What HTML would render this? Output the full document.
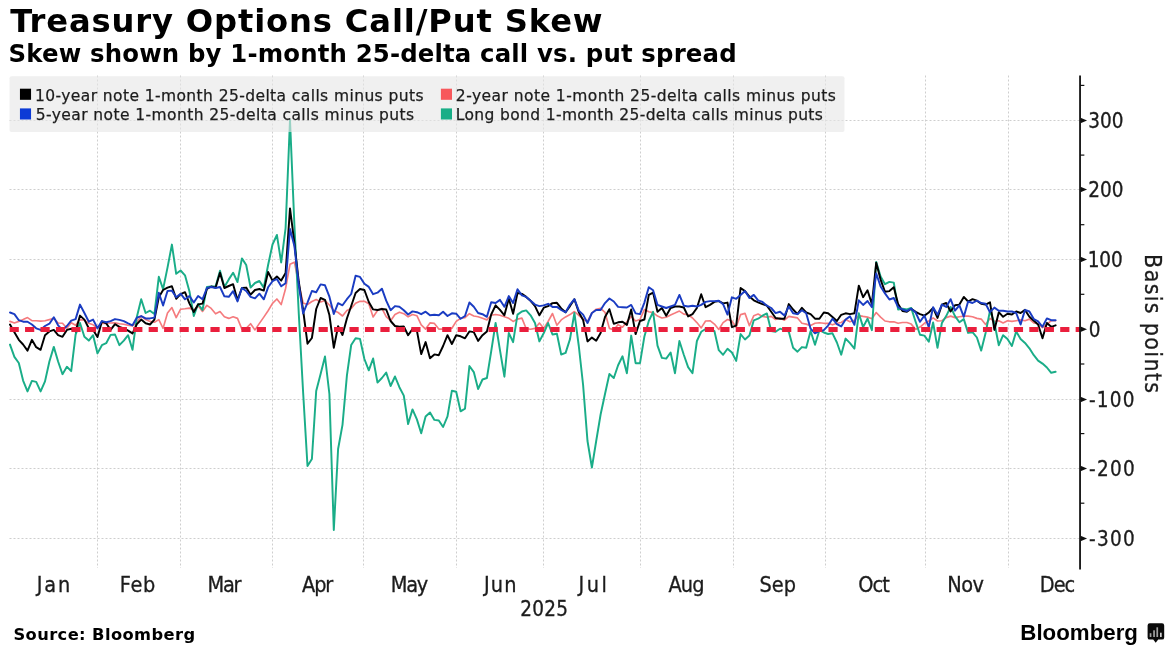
<!DOCTYPE html>
<html lang="en"><head><meta charset="utf-8"><title>Treasury Options Call/Put Skew</title>
<style>html,body{margin:0;padding:0;background:#fff}svg{display:block}</style></head>
<body>
<svg width="1173" height="654" viewBox="0 0 1173 654">
<rect width="1173" height="654" fill="#fff"/>
<g stroke="#cecece" stroke-width="1" stroke-dasharray="2 2" fill="none"><line x1="9.5" x2="1080.05" y1="120.5" y2="120.5"/><line x1="9.5" x2="1080.05" y1="189.5" y2="189.5"/><line x1="9.5" x2="1080.05" y1="259.5" y2="259.5"/><line x1="9.5" x2="1080.05" y1="399.5" y2="399.5"/><line x1="9.5" x2="1080.05" y1="468.5" y2="468.5"/><line x1="9.5" x2="1080.05" y1="538.5" y2="538.5"/><line x1="97.5" x2="97.5" y1="75.5" y2="568"/><line x1="180.5" x2="180.5" y1="75.5" y2="568"/><line x1="272.5" x2="272.5" y1="75.5" y2="568"/><line x1="363.5" x2="363.5" y1="75.5" y2="568"/><line x1="456.5" x2="456.5" y1="75.5" y2="568"/><line x1="543.5" x2="543.5" y1="75.5" y2="568"/><line x1="640.5" x2="640.5" y1="75.5" y2="568"/><line x1="733.5" x2="733.5" y1="75.5" y2="568"/><line x1="825.5" x2="825.5" y1="75.5" y2="568"/><line x1="925.5" x2="925.5" y1="75.5" y2="568"/><line x1="1008.5" x2="1008.5" y1="75.5" y2="568"/></g>
<polyline points="10.0,321.4 14.4,323.0 18.8,321.4 23.1,319.6 27.5,317.6 31.9,320.7 36.2,320.7 40.6,321.1 45.0,320.7 49.4,319.6 53.8,318.4 58.1,323.0 62.5,323.3 66.9,328.3 71.2,322.7 75.6,325.3 80.0,319.6 84.4,320.2 88.8,323.3 93.1,324.8 97.5,328.3 101.9,323.3 106.2,323.3 110.6,323.0 115.0,322.7 119.4,323.7 123.8,324.2 128.1,325.3 132.5,326.0 136.9,322.2 141.2,316.1 145.6,319.6 150.0,321.4 154.4,322.2 158.8,319.6 163.1,328.3 167.5,313.0 171.9,307.6 176.2,317.6 180.6,309.2 185.0,308.8 189.4,308.1 193.8,310.4 198.1,305.8 202.5,311.5 206.9,305.3 211.2,308.4 215.6,313.8 220.0,311.5 224.4,316.8 228.8,318.4 233.1,316.8 237.5,318.4 241.9,329.1 246.2,328.3 250.6,323.7 255.0,329.9 259.4,323.4 263.8,317.1 268.1,310.7 272.5,303.4 276.9,299.0 281.2,304.6 285.6,288.5 290.0,264.3 294.4,262.2 298.8,284.0 303.1,303.0 307.5,304.5 311.9,301.5 316.2,299.5 320.6,302.0 325.0,300.5 329.4,305.0 333.8,310.5 338.1,312.5 342.5,316.0 346.9,310.5 351.2,308.4 355.6,303.3 360.0,301.3 364.4,301.3 368.8,303.8 373.1,317.0 377.5,310.5 381.9,308.4 386.2,316.6 390.6,320.7 395.0,314.5 399.4,312.2 403.8,313.7 408.1,316.8 412.5,314.5 416.9,315.7 421.2,324.9 425.6,329.1 430.0,322.9 434.4,323.4 438.8,329.1 443.1,329.1 447.5,329.8 451.9,328.3 456.2,321.4 460.6,318.3 465.0,317.6 469.4,313.7 473.8,316.0 478.1,316.8 482.5,318.3 486.9,319.9 491.2,315.3 495.6,314.5 500.0,315.3 504.4,316.8 508.8,318.3 513.1,321.4 517.5,319.1 521.9,318.1 526.2,328.8 530.6,329.2 535.0,328.4 539.4,323.0 543.8,328.4 548.1,321.5 552.5,313.5 556.9,325.3 561.2,319.9 565.6,316.9 570.0,314.6 574.4,311.5 578.8,315.3 583.1,319.2 587.5,321.5 591.9,313.0 596.2,309.2 600.6,308.4 605.0,312.3 609.4,328.4 613.8,329.9 618.1,324.6 622.5,327.2 626.9,321.8 631.2,316.4 635.6,321.0 640.0,319.5 644.4,309.5 648.8,311.8 653.1,312.6 657.5,316.1 661.9,318.0 666.2,317.2 670.6,314.9 675.0,313.1 679.4,311.1 683.8,314.1 688.1,314.6 692.5,318.0 696.9,322.6 701.2,327.9 705.6,321.0 710.0,320.7 714.4,324.1 718.8,329.5 723.1,322.6 727.5,319.5 731.9,321.0 736.2,327.2 740.6,314.6 745.0,313.4 749.4,325.6 753.8,315.7 758.1,314.1 762.5,316.4 766.9,317.2 771.2,316.4 775.6,319.5 780.0,318.0 784.4,320.2 788.8,316.4 793.1,317.1 797.5,317.9 801.9,323.3 806.2,324.1 810.6,325.6 815.0,323.3 819.4,322.8 823.8,323.3 828.1,323.3 832.5,324.8 836.9,323.3 841.2,322.5 845.6,319.5 850.0,321.8 854.4,320.2 858.8,315.6 863.1,316.4 867.5,317.1 871.9,318.7 876.2,312.5 880.6,317.1 885.0,321.0 889.4,321.8 893.8,321.8 898.1,323.3 902.5,322.5 906.9,322.5 911.2,324.1 915.6,329.4 920.0,327.1 924.4,323.3 928.8,321.0 933.1,317.9 937.5,321.0 941.9,320.7 946.2,317.6 950.6,316.1 955.0,317.6 959.4,316.8 963.8,316.1 968.1,316.1 972.5,316.8 976.9,318.4 981.2,319.1 985.6,324.5 990.0,318.4 994.4,321.4 998.8,320.7 1003.1,323.0 1007.5,320.7 1011.9,321.4 1016.2,320.7 1020.6,319.9 1025.0,320.7 1029.4,319.1 1033.8,323.0 1038.1,323.7 1042.5,327.6 1046.9,324.5 1051.2,320.7 1055.6,320.7" fill="none" stroke="#f57b7e" stroke-width="1.65" stroke-linejoin="round" stroke-linecap="round"/>
<polyline points="10.0,344.6 14.4,356.9 18.8,363.0 23.1,380.6 27.5,391.4 31.9,380.9 36.2,381.9 40.6,391.4 45.0,381.4 49.4,361.5 53.8,346.9 58.1,361.5 62.5,374.2 66.9,366.8 71.2,371.1 75.6,334.6 80.0,323.0 84.4,336.8 88.8,340.6 93.1,335.2 97.5,353.4 101.9,345.2 106.2,343.2 110.6,334.9 115.0,334.5 119.4,345.2 123.8,340.6 128.1,335.2 132.5,349.8 136.9,316.8 141.2,299.2 145.6,313.0 150.0,310.7 154.4,314.1 158.8,276.8 163.1,289.1 167.5,267.6 171.9,244.6 176.2,273.8 180.6,270.5 185.0,275.3 189.4,291.2 193.8,316.0 198.1,304.0 202.5,310.0 206.9,287.0 211.2,286.5 215.6,286.5 220.0,270.7 224.4,287.0 228.8,279.4 233.1,272.7 237.5,282.0 241.9,258.4 246.2,265.0 250.6,287.6 255.0,283.0 259.4,281.0 263.8,287.6 268.1,265.0 272.5,244.5 276.9,235.0 281.2,262.5 285.6,228.0 290.0,120.0 294.4,225.0 298.8,314.0 303.1,392.0 307.5,466.0 311.9,459.0 316.2,391.0 320.6,374.0 325.0,356.5 329.4,394.0 333.8,530.0 338.1,449.0 342.5,424.8 346.9,375.7 351.2,345.0 355.6,338.3 360.0,338.9 364.4,359.0 368.8,370.3 373.1,358.5 377.5,382.6 381.9,378.0 386.2,372.6 390.6,386.0 395.0,376.5 399.4,387.2 403.8,395.6 408.1,424.0 412.5,409.4 416.9,419.4 421.2,433.2 425.6,416.4 430.0,412.5 434.4,419.9 438.8,420.5 443.1,427.0 447.5,416.4 451.9,390.7 456.2,391.8 460.6,411.3 465.0,408.7 469.4,366.0 473.8,372.1 478.1,389.0 482.5,379.5 486.9,378.0 491.2,351.4 495.6,323.0 500.0,350.3 504.4,376.7 508.8,333.0 513.1,342.2 517.5,314.6 521.9,311.5 526.2,310.4 530.6,315.3 535.0,323.0 539.4,341.4 543.8,333.0 548.1,323.0 552.5,334.5 556.9,333.8 561.2,354.5 565.6,352.9 570.0,339.1 574.4,313.0 578.8,346.0 583.1,385.0 587.5,441.0 591.9,467.5 596.2,441.0 600.6,414.5 605.0,394.0 609.4,374.0 613.8,378.0 618.1,365.2 622.5,356.3 626.9,373.2 631.2,335.6 635.6,363.2 640.0,363.2 644.4,336.4 648.8,321.0 653.1,311.8 657.5,345.6 661.9,357.9 666.2,358.6 670.6,352.5 675.0,373.2 679.4,341.0 683.8,354.8 688.1,367.1 692.5,373.2 696.9,341.0 701.2,331.8 705.6,329.0 710.0,328.7 714.4,331.0 718.8,350.2 723.1,354.8 727.5,348.7 731.9,352.5 736.2,360.9 740.6,334.1 745.0,339.5 749.4,335.6 753.8,320.3 758.1,318.7 762.5,315.7 766.9,313.4 771.2,331.0 775.6,331.8 780.0,328.7 784.4,330.2 788.8,331.7 793.1,347.8 797.5,351.7 801.9,347.1 806.2,347.8 810.6,331.0 815.0,344.8 819.4,330.2 823.8,332.5 828.1,334.0 832.5,333.3 836.9,342.5 841.2,354.7 845.6,338.6 850.0,343.2 854.4,348.6 858.8,313.3 863.1,327.1 867.5,318.7 871.9,330.2 876.2,261.9 880.6,276.5 885.0,284.2 889.4,281.9 893.8,282.6 898.1,309.5 902.5,308.7 906.9,309.5 911.2,307.9 915.6,321.8 920.0,334.8 924.4,335.6 928.8,341.7 933.1,322.5 937.5,347.8 941.9,323.0 946.2,316.1 950.6,306.9 955.0,316.1 959.4,322.2 963.8,319.1 968.1,332.9 972.5,332.2 976.9,337.5 981.2,350.6 985.6,332.9 990.0,310.7 994.4,323.0 998.8,345.2 1003.1,335.2 1007.5,339.1 1011.9,346.0 1016.2,331.4 1020.6,339.1 1025.0,342.9 1029.4,348.3 1033.8,355.2 1038.1,360.6 1042.5,363.6 1046.9,367.5 1051.2,372.8 1055.6,371.8" fill="none" stroke="#1aad88" stroke-width="1.95" stroke-linejoin="round" stroke-linecap="round"/>
<polyline points="10.0,324.5 14.4,332.2 18.8,339.8 23.1,344.5 27.5,350.6 31.9,339.8 36.2,347.2 40.6,349.8 45.0,335.2 49.4,331.4 53.8,329.9 58.1,335.2 62.5,336.8 66.9,329.9 71.2,328.8 75.6,331.4 80.0,315.6 84.4,319.6 88.8,328.3 93.1,329.9 97.5,337.1 101.9,321.4 106.2,323.3 110.6,329.9 115.0,324.2 119.4,326.8 123.8,328.3 128.1,330.6 132.5,333.4 136.9,324.2 141.2,319.6 145.6,323.3 150.0,324.5 154.4,319.6 158.8,297.2 163.1,290.0 167.5,287.6 171.9,286.2 176.2,298.8 180.6,294.2 185.0,292.2 189.4,303.4 193.8,312.0 198.1,304.4 202.5,303.6 206.9,289.0 211.2,286.5 215.6,287.6 220.0,272.7 224.4,288.0 228.8,286.0 233.1,284.2 237.5,300.0 241.9,288.0 246.2,287.6 250.6,294.7 255.0,290.0 259.4,289.0 263.8,290.6 268.1,272.0 272.5,280.6 276.9,276.5 281.2,280.6 285.6,273.0 290.0,208.4 294.4,243.0 298.8,282.0 303.1,310.0 307.5,343.7 311.9,338.0 316.2,309.0 320.6,298.0 325.0,299.8 329.4,315.0 333.8,347.7 338.1,326.2 342.5,335.0 346.9,318.5 351.2,306.0 355.6,293.0 360.0,289.0 364.4,290.0 368.8,302.0 373.1,309.4 377.5,310.0 381.9,309.0 386.2,309.5 390.6,321.0 395.0,326.0 399.4,326.8 403.8,326.5 408.1,335.2 412.5,329.1 416.9,330.6 421.2,354.1 425.6,342.1 430.0,358.2 434.4,354.4 438.8,355.2 443.1,346.0 447.5,335.2 451.9,344.0 456.2,335.2 460.6,336.3 465.0,338.3 469.4,331.4 473.8,332.1 478.1,340.9 482.5,335.2 486.9,331.4 491.2,314.5 495.6,305.3 500.0,309.9 504.4,315.3 508.8,298.4 513.1,313.7 517.5,293.0 521.9,293.9 526.2,296.9 530.6,300.8 535.0,306.1 539.4,315.3 543.8,307.7 548.1,306.1 552.5,303.1 556.9,302.8 561.2,308.4 565.6,312.3 570.0,306.1 574.4,299.2 578.8,312.3 583.1,319.9 587.5,341.4 591.9,337.6 596.2,340.7 600.6,333.0 605.0,316.9 609.4,309.2 613.8,323.8 618.1,322.3 622.5,321.8 626.9,324.9 631.2,309.5 635.6,334.1 640.0,321.0 644.4,319.5 648.8,294.9 653.1,292.6 657.5,311.8 661.9,308.0 666.2,315.7 670.6,308.0 675.0,306.5 679.4,306.5 683.8,307.5 688.1,316.4 692.5,314.1 696.9,308.0 701.2,294.2 705.6,307.2 710.0,304.9 714.4,301.9 718.8,301.1 723.1,303.4 727.5,302.6 731.9,327.2 736.2,325.6 740.6,288.0 745.0,291.1 749.4,296.5 753.8,300.3 758.1,302.3 762.5,304.2 766.9,305.7 771.2,311.8 775.6,318.0 780.0,318.7 784.4,318.7 788.8,304.1 793.1,309.5 797.5,314.1 801.9,307.9 806.2,312.5 810.6,314.1 815.0,318.7 819.4,318.7 823.8,312.5 828.1,313.3 832.5,317.1 836.9,321.0 841.2,314.8 845.6,313.3 850.0,314.1 854.4,313.3 858.8,285.7 863.1,297.2 867.5,290.3 871.9,304.1 876.2,262.8 880.6,279.6 885.0,291.8 889.4,291.1 893.8,287.2 898.1,304.1 902.5,311.0 906.9,311.8 911.2,308.7 915.6,311.8 920.0,314.1 924.4,315.6 928.8,312.5 933.1,307.9 937.5,317.9 941.9,304.6 946.2,303.0 950.6,311.5 955.0,305.3 959.4,304.6 963.8,296.9 968.1,301.5 972.5,299.2 976.9,300.7 981.2,303.8 985.6,304.6 990.0,302.3 994.4,329.9 998.8,312.2 1003.1,316.8 1007.5,313.8 1011.9,314.5 1016.2,311.5 1020.6,313.0 1025.0,309.9 1029.4,316.8 1033.8,320.7 1038.1,324.5 1042.5,338.3 1046.9,323.0 1051.2,326.8 1055.6,325.3" fill="none" stroke="#000000" stroke-width="1.95" stroke-linejoin="round" stroke-linecap="round"/>
<polyline points="10.0,312.5 14.4,314.1 18.8,320.2 23.1,321.7 27.5,321.7 31.9,324.5 36.2,328.3 40.6,329.9 45.0,326.0 49.4,323.7 53.8,317.3 58.1,325.3 62.5,329.9 66.9,326.0 71.2,320.7 75.6,319.1 80.0,304.6 84.4,313.0 88.8,321.7 93.1,319.6 97.5,328.3 101.9,321.1 106.2,322.2 110.6,321.1 115.0,319.1 119.4,319.9 123.8,321.1 128.1,323.3 132.5,325.3 136.9,317.6 141.2,316.1 145.6,318.4 150.0,318.4 154.4,317.6 158.8,292.7 163.1,305.5 167.5,291.0 171.9,290.6 176.2,297.3 180.6,293.7 185.0,299.3 189.4,296.0 193.8,302.5 198.1,296.0 202.5,299.3 206.9,288.0 211.2,287.0 215.6,288.0 220.0,287.0 224.4,296.3 228.8,296.8 233.1,291.2 237.5,301.4 241.9,288.0 246.2,291.0 250.6,296.8 255.0,298.3 259.4,293.7 263.8,299.3 268.1,287.3 272.5,281.2 276.9,279.0 281.2,286.3 285.6,283.2 290.0,229.0 294.4,246.0 298.8,285.0 303.1,313.4 307.5,302.6 311.9,291.0 316.2,292.3 320.6,284.4 325.0,285.3 329.4,296.7 333.8,314.0 338.1,303.2 342.5,305.3 346.9,299.2 351.2,294.0 355.6,275.8 360.0,276.9 364.4,283.8 368.8,286.9 373.1,294.2 377.5,292.7 381.9,288.7 386.2,300.7 390.6,310.2 395.0,306.1 399.4,306.8 403.8,310.2 408.1,314.5 412.5,311.4 416.9,312.2 421.2,314.2 425.6,311.7 430.0,315.3 434.4,314.8 438.8,315.3 443.1,311.7 447.5,316.0 451.9,313.3 456.2,313.7 460.6,318.8 465.0,316.0 469.4,302.5 473.8,306.8 478.1,313.0 482.5,314.2 486.9,316.8 491.2,302.2 495.6,303.0 500.0,299.9 504.4,306.8 508.8,296.1 513.1,303.0 517.5,289.2 521.9,295.4 526.2,296.9 530.6,300.8 535.0,304.6 539.4,306.1 543.8,305.4 548.1,303.8 552.5,306.9 556.9,306.9 561.2,310.0 565.6,312.3 570.0,304.6 574.4,299.2 578.8,310.7 583.1,314.6 587.5,323.0 591.9,313.0 596.2,310.0 600.6,310.0 605.0,303.1 609.4,298.5 613.8,301.5 618.1,306.9 622.5,307.2 626.9,307.5 631.2,304.9 635.6,313.4 640.0,314.1 644.4,302.6 648.8,287.3 653.1,290.3 657.5,304.9 661.9,306.5 666.2,308.0 670.6,306.5 675.0,304.9 679.4,294.9 683.8,305.7 688.1,306.5 692.5,305.7 696.9,306.5 701.2,304.9 705.6,301.9 710.0,301.1 714.4,301.1 718.8,300.8 723.1,304.2 727.5,314.6 731.9,297.3 736.2,298.8 740.6,294.9 745.0,291.1 749.4,298.0 753.8,294.9 758.1,300.3 762.5,301.9 766.9,305.7 771.2,308.0 775.6,313.1 780.0,311.8 784.4,315.6 788.8,306.4 793.1,313.3 797.5,314.1 801.9,310.2 806.2,313.3 810.6,328.7 815.0,333.3 819.4,331.0 823.8,330.2 828.1,325.6 832.5,318.7 836.9,324.1 841.2,326.4 845.6,319.5 850.0,316.4 854.4,324.8 858.8,300.3 863.1,304.9 867.5,301.0 871.9,307.2 876.2,273.4 880.6,286.5 885.0,293.4 889.4,299.5 893.8,298.0 898.1,307.2 902.5,309.5 906.9,311.0 911.2,308.7 915.6,312.5 920.0,321.8 924.4,315.6 928.8,327.1 933.1,307.2 937.5,314.8 941.9,304.6 946.2,306.9 950.6,299.2 955.0,310.7 959.4,305.3 963.8,316.8 968.1,301.5 972.5,303.0 976.9,300.7 981.2,303.0 985.6,303.8 990.0,312.2 994.4,307.6 998.8,310.7 1003.1,310.7 1007.5,311.5 1011.9,311.5 1016.2,313.0 1020.6,324.5 1025.0,309.9 1029.4,311.5 1033.8,319.1 1038.1,321.4 1042.5,326.8 1046.9,318.4 1051.2,320.2 1055.6,320.2" fill="none" stroke="#1a3cc2" stroke-width="1.95" stroke-linejoin="round" stroke-linecap="round"/>
<line x1="9.6" x2="1080.05" y1="329.45" y2="329.45" stroke="#ea1f3d" stroke-width="5" stroke-dasharray="9.2 6.25"/>
<rect x="9.5" y="76.3" width="835" height="55.8" rx="2" fill="#e6e6e6" fill-opacity="0.62"/>
<line x1="1080.05" x2="1080.05" y1="75.5" y2="569.5" stroke="#111" stroke-width="1.8"/>
<line x1="1080.05" x2="1084.35" y1="85.4" y2="85.4" stroke="#111" stroke-width="1.2"/><line x1="1080.05" x2="1084.35" y1="155.1" y2="155.1" stroke="#111" stroke-width="1.2"/><line x1="1080.05" x2="1084.35" y1="224.7" y2="224.7" stroke="#111" stroke-width="1.2"/><line x1="1080.05" x2="1084.35" y1="294.3" y2="294.3" stroke="#111" stroke-width="1.2"/><line x1="1080.05" x2="1084.35" y1="364.0" y2="364.0" stroke="#111" stroke-width="1.2"/><line x1="1080.05" x2="1084.35" y1="433.6" y2="433.6" stroke="#111" stroke-width="1.2"/><line x1="1080.05" x2="1084.35" y1="503.2" y2="503.2" stroke="#111" stroke-width="1.2"/><path d="M1080.55 117.7L1087.05 120.5L1080.55 123.3Z" fill="#111"/><path d="M1080.55 186.7L1087.05 189.5L1080.55 192.3Z" fill="#111"/><path d="M1080.55 256.7L1087.05 259.5L1080.55 262.3Z" fill="#111"/><path d="M1080.55 326.5L1087.05 329.3L1080.55 332.1Z" fill="#111"/><path d="M1080.55 396.7L1087.05 399.5L1080.55 402.3Z" fill="#111"/><path d="M1080.55 465.7L1087.05 468.5L1080.55 471.3Z" fill="#111"/><path d="M1080.55 535.7L1087.05 538.5L1080.55 541.3Z" fill="#111"/>
<text x="1088.22" y="127.95" font-family='"DejaVu Sans Condensed","DejaVu Sans","Liberation Sans",sans-serif' font-size="20.5" textLength="35.21" lengthAdjust="spacing" fill="#1c1c1c" stroke="#1c1c1c" stroke-width="0.3">300</text>
<text x="1088.34" y="196.95" font-family='"DejaVu Sans Condensed","DejaVu Sans","Liberation Sans",sans-serif' font-size="20.5" textLength="35.08" lengthAdjust="spacing" fill="#1c1c1c" stroke="#1c1c1c" stroke-width="0.3">200</text>
<text x="1087.76" y="266.95" font-family='"DejaVu Sans Condensed","DejaVu Sans","Liberation Sans",sans-serif' font-size="20.5" textLength="34.94" lengthAdjust="spacing" fill="#1c1c1c" stroke="#1c1c1c" stroke-width="0.3">100</text>
<text x="1088.67" y="336.75" font-family='"DejaVu Sans Condensed","DejaVu Sans","Liberation Sans",sans-serif' font-size="20.5" textLength="12.97" lengthAdjust="spacing" fill="#1c1c1c" stroke="#1c1c1c" stroke-width="0.3">0</text>
<text x="1089.00" y="406.95" font-family='"DejaVu Sans Condensed","DejaVu Sans","Liberation Sans",sans-serif' font-size="20.5" textLength="45.36" lengthAdjust="spacing" fill="#1c1c1c" stroke="#1c1c1c" stroke-width="0.3">-100</text>
<text x="1089.00" y="475.95" font-family='"DejaVu Sans Condensed","DejaVu Sans","Liberation Sans",sans-serif' font-size="20.5" textLength="45.83" lengthAdjust="spacing" fill="#1c1c1c" stroke="#1c1c1c" stroke-width="0.3">-200</text>
<text x="1089.00" y="545.95" font-family='"DejaVu Sans Condensed","DejaVu Sans","Liberation Sans",sans-serif' font-size="20.5" textLength="45.83" lengthAdjust="spacing" fill="#1c1c1c" stroke="#1c1c1c" stroke-width="0.3">-300</text>
<text x="36.82" y="591.90" font-family='"DejaVu Sans Condensed","DejaVu Sans","Liberation Sans",sans-serif' font-size="21.5" textLength="33.53" lengthAdjust="spacing" fill="#1c1c1c" stroke="#1c1c1c" stroke-width="0.3">Jan</text>
<text x="119.85" y="591.90" font-family='"DejaVu Sans Condensed","DejaVu Sans","Liberation Sans",sans-serif' font-size="21.5" textLength="35.44" lengthAdjust="spacing" fill="#1c1c1c" stroke="#1c1c1c" stroke-width="0.3">Feb</text>
<text x="207.39" y="591.90" font-family='"DejaVu Sans Condensed","DejaVu Sans","Liberation Sans",sans-serif' font-size="21.5" textLength="34.09" lengthAdjust="spacing" fill="#1c1c1c" stroke="#1c1c1c" stroke-width="0.3">Mar</text>
<text x="302.02" y="591.90" font-family='"DejaVu Sans Condensed","DejaVu Sans","Liberation Sans",sans-serif' font-size="21.5" textLength="31.23" lengthAdjust="spacing" fill="#1c1c1c" stroke="#1c1c1c" stroke-width="0.3">Apr</text>
<text x="390.85" y="591.90" font-family='"DejaVu Sans Condensed","DejaVu Sans","Liberation Sans",sans-serif' font-size="21.5" textLength="37.32" lengthAdjust="spacing" fill="#1c1c1c" stroke="#1c1c1c" stroke-width="0.3">May</text>
<text x="483.94" y="591.90" font-family='"DejaVu Sans Condensed","DejaVu Sans","Liberation Sans",sans-serif' font-size="21.5" textLength="32.66" lengthAdjust="spacing" fill="#1c1c1c" stroke="#1c1c1c" stroke-width="0.3">Jun</text>
<text x="578.51" y="591.90" font-family='"DejaVu Sans Condensed","DejaVu Sans","Liberation Sans",sans-serif' font-size="21.5" textLength="28.30" lengthAdjust="spacing" fill="#1c1c1c" stroke="#1c1c1c" stroke-width="0.3">Jul</text>
<text x="668.42" y="591.90" font-family='"DejaVu Sans Condensed","DejaVu Sans","Liberation Sans",sans-serif' font-size="21.5" textLength="36.22" lengthAdjust="spacing" fill="#1c1c1c" stroke="#1c1c1c" stroke-width="0.3">Aug</text>
<text x="759.44" y="591.90" font-family='"DejaVu Sans Condensed","DejaVu Sans","Liberation Sans",sans-serif' font-size="21.5" textLength="36.63" lengthAdjust="spacing" fill="#1c1c1c" stroke="#1c1c1c" stroke-width="0.3">Sep</text>
<text x="858.17" y="591.90" font-family='"DejaVu Sans Condensed","DejaVu Sans","Liberation Sans",sans-serif' font-size="21.5" textLength="31.56" lengthAdjust="spacing" fill="#1c1c1c" stroke="#1c1c1c" stroke-width="0.3">Oct</text>
<text x="947.14" y="591.90" font-family='"DejaVu Sans Condensed","DejaVu Sans","Liberation Sans",sans-serif' font-size="21.5" textLength="36.86" lengthAdjust="spacing" fill="#1c1c1c" stroke="#1c1c1c" stroke-width="0.3">Nov</text>
<text x="1039.82" y="591.90" font-family='"DejaVu Sans Condensed","DejaVu Sans","Liberation Sans",sans-serif' font-size="21.5" textLength="35.43" lengthAdjust="spacing" fill="#1c1c1c" stroke="#1c1c1c" stroke-width="0.3">Dec</text>
<text x="520.31" y="615.60" font-family='"DejaVu Sans Condensed","DejaVu Sans","Liberation Sans",sans-serif' font-size="20.5" textLength="47.60" lengthAdjust="spacing" fill="#1c1c1c" stroke="#1c1c1c" stroke-width="0.3">2025</text>
<text transform="translate(1144.5,254.11) rotate(90)" font-family='"DejaVu Sans Condensed","DejaVu Sans","Liberation Sans",sans-serif' font-size="23" fill="#1c1c1c" stroke="#1c1c1c" stroke-width="0.3" textLength="138.98" lengthAdjust="spacing">Basis points</text>
<text x="10.24" y="32.00" font-family='"DejaVu Sans","Liberation Sans",sans-serif' font-size="32.2" font-weight="bold" textLength="592.35" lengthAdjust="spacing" fill="#000">Treasury Options Call/Put Skew</text>
<text x="8.55" y="62.00" font-family='"DejaVu Sans","Liberation Sans",sans-serif' font-size="24.4" font-weight="bold" textLength="728.05" lengthAdjust="spacing" fill="#000">Skew shown by 1-month 25-delta call vs. put spread</text>
<rect x="19.95" y="88.7" width="11.1" height="11.1" fill="#000000"/>
<text x="34.92" y="100.60" font-family='"DejaVu Sans","Liberation Sans",sans-serif' font-size="15.5" textLength="388.56" lengthAdjust="spacing" fill="#1c1c1c" stroke="#1c1c1c" stroke-width="0.25">10-year note 1-month 25-delta calls minus puts</text>
<rect x="19.95" y="108.4" width="11.1" height="11.1" fill="#0c3ad6"/>
<text x="35.71" y="120.30" font-family='"DejaVu Sans","Liberation Sans",sans-serif' font-size="15.5" textLength="378.44" lengthAdjust="spacing" fill="#1c1c1c" stroke="#1c1c1c" stroke-width="0.25">5-year note 1-month 25-delta calls minus puts</text>
<rect x="440.9" y="88.7" width="11.1" height="11.1" fill="#f7585c"/>
<text x="455.85" y="100.60" font-family='"DejaVu Sans","Liberation Sans",sans-serif' font-size="15.5" textLength="380.07" lengthAdjust="spacing" fill="#1c1c1c" stroke="#1c1c1c" stroke-width="0.25">2-year note 1-month 25-delta calls minus puts</text>
<rect x="440.9" y="108.4" width="11.1" height="11.1" fill="#19ae87"/>
<text x="455.79" y="120.30" font-family='"DejaVu Sans","Liberation Sans",sans-serif' font-size="15.5" textLength="367.08" lengthAdjust="spacing" fill="#1c1c1c" stroke="#1c1c1c" stroke-width="0.25">Long bond 1-month 25-delta calls minus puts</text>
<text x="13.45" y="640.00" font-family='"DejaVu Sans","Liberation Sans",sans-serif' font-size="16.3" font-weight="bold" textLength="181.59" lengthAdjust="spacing" fill="#000">Source: Bloomberg</text>
<text x="1020.33" y="639.80" font-family='"Liberation Sans",sans-serif' font-size="22.6" font-weight="bold" textLength="117.58" lengthAdjust="spacingAndGlyphs" fill="#000">Bloomberg</text>
<path d="M1149.8 623.3h12.2a2.2 2.2 0 0 1 2.2 2.2v11.9a2.2 2.2 0 0 1-2.2 2.2h-3.8l-2.5 3.1-2.5-3.1h-3.4a2.2 2.2 0 0 1-2.2-2.2v-11.9a2.2 2.2 0 0 1 2.2-2.2z" fill="#0a0a0a"/>
<g fill="#a2a2a2"><rect x="1149.7" y="633.2" width="1.7" height="3.8"/><rect x="1153.2" y="630.3" width="1.7" height="6.7"/><rect x="1156.4" y="627.3" width="1.7" height="9.7"/><rect x="1160" y="632.7" width="1.7" height="4.3" fill="#d2d2d2"/></g>
</svg>
</body></html>
